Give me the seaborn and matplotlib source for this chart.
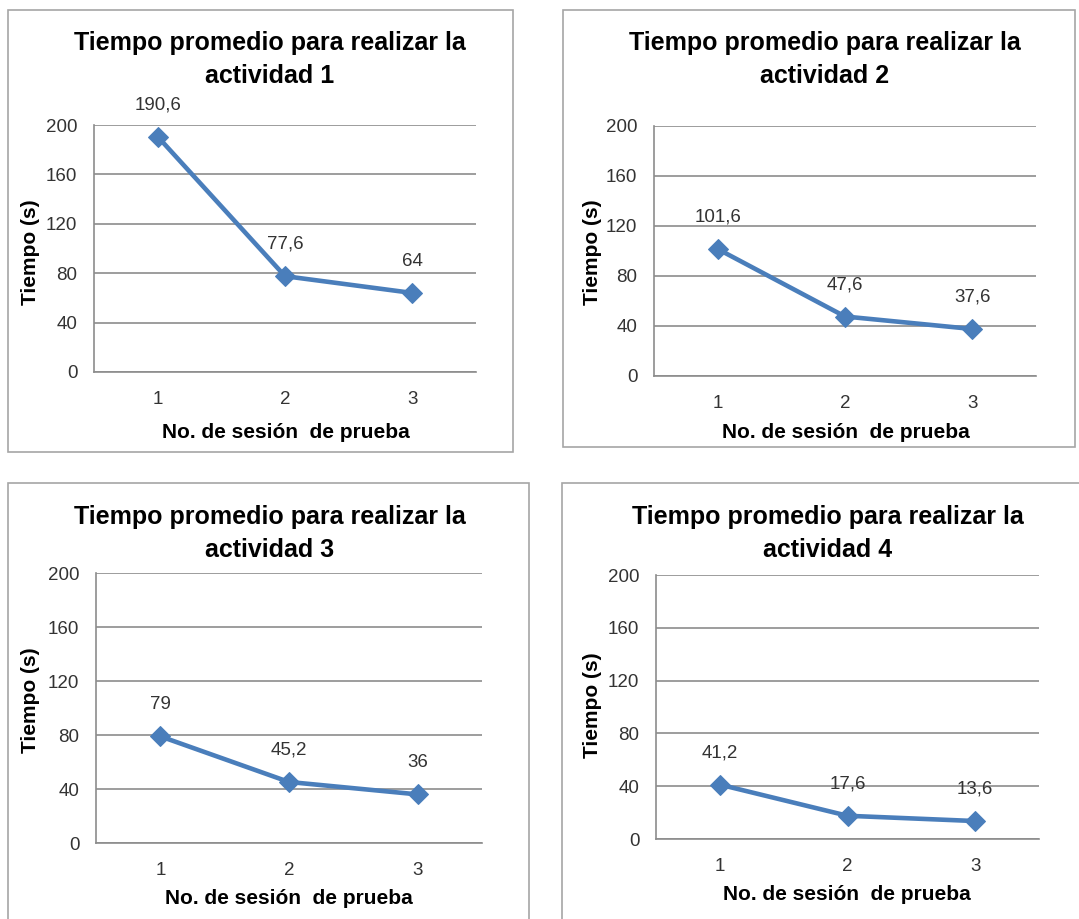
import matplotlib
matplotlib.use("Agg")
import matplotlib.pyplot as plt
import seaborn as sns
import pandas as pd
from matplotlib.patches import Rectangle

sns.set_style("white")
plt.rcParams["font.family"] = ["Liberation Sans", "DejaVu Sans"]

# Average time (s) per test session for each activity
sessions = [1, 2, 3]
actividad_1 = [190.6, 77.6, 64]
actividad_2 = [101.6, 47.6, 37.6]
actividad_3 = [79, 45.2, 36]
actividad_4 = [41.2, 17.6, 13.6]
titles = [
    "Tiempo promedio para realizar la\nactividad 1",
    "Tiempo promedio para realizar la\nactividad 2",
    "Tiempo promedio para realizar la\nactividad 3",
    "Tiempo promedio para realizar la\nactividad 4",
]
y_ticks = [0, 40, 80, 120, 160, 200]
x_label = "No. de sesión  de prueba"
y_label = "Tiempo (s)"

W, H = 1079, 919
fig = plt.figure(figsize=(W / 100, H / 100), dpi=100)

LINE = "#4A7EBB"
GRID = "#8C8C8C"
TXT = "#333333"

# layout of each chart in pixels: plot area, frame, title centre, labels
layout = [
    dict(plot=(94, 476, 125, 372), frame=(8, 10, 513, 452), tx=270, ty=(43, 76),
         ylx=30, yly=252, xlx=286, xly=432),
    dict(plot=(654, 1036, 126, 376), frame=(563, 10, 1075, 447), tx=825, ty=(43, 76),
         ylx=592, yly=252, xlx=846, xly=432),
    dict(plot=(96, 482, 573, 843), frame=(8, 483, 529, 930), tx=270, ty=(517, 550),
         ylx=30, yly=700, xlx=289, xly=898),
    dict(plot=(656, 1039, 575, 839), frame=(562, 483, 1090, 930), tx=828, ty=(517, 550),
         ylx=592, yly=705, xlx=847, xly=894),
]
series = [actividad_1, actividad_2, actividad_3, actividad_4]


def fmt(v):
    s = f"{v:.1f}".rstrip("0").rstrip(".")
    return s.replace(".", ",")


for vals, title, lay in zip(series, titles, layout):
    fx0, fy0, fx1, fy1 = lay["frame"]
    fig.patches.append(Rectangle((fx0 / W, 1 - fy1 / H), (fx1 - fx0) / W, (fy1 - fy0) / H,
                                 transform=fig.transFigure, fill=False,
                                 edgecolor="#A6A6A6", linewidth=1.2, zorder=0))

    l, r, t, b = lay["plot"]
    ax = fig.add_axes([l / W, 1 - b / H, (r - l) / W, (b - t) / H])
    df = pd.DataFrame({"x": [s - 1 for s in sessions], "y": vals})
    sns.lineplot(data=df, x="x", y="y", ax=ax, color=LINE, linewidth=3.3,
                 marker="D", markersize=10, markeredgecolor=LINE, clip_on=False, zorder=5)

    ax.set_xlim(-0.5, len(sessions) - 0.5)
    ax.set_ylim(0, 200)
    ax.set_yticks(y_ticks)
    ax.set_yticklabels([str(v) for v in y_ticks])
    ax.set_xticks([i - 0.5 for i in range(len(sessions) + 1)])
    ax.set_xticklabels([])
    ax.set_xticks(range(len(sessions)), minor=True)
    ax.set_xticklabels([str(s) for s in sessions], minor=True)
    ax.tick_params(axis="x", which="major", length=6, width=1, color=GRID, direction="out")
    ax.tick_params(axis="x", which="minor", length=0, pad=14, labelsize=13.5, labelcolor=TXT)
    ax.tick_params(axis="y", length=6, width=1, color=GRID, direction="out", pad=6,
                   labelsize=13.5, labelcolor=TXT)
    ax.yaxis.grid(True, color=GRID, linewidth=1.2)
    ax.set_axisbelow(True)
    for side in ["top", "right"]:
        ax.spines[side].set_visible(False)
    ax.spines["left"].set_color(GRID)
    ax.spines["bottom"].set_color(GRID)
    ax.spines["left"].set_linewidth(1.2)
    ax.spines["bottom"].set_linewidth(1.2)
    ax.set_xlabel("")
    ax.set_ylabel("")

    for i, v in enumerate(vals):
        ax.annotate(fmt(v), (i, v), xytext=(0, 23), textcoords="offset points",
                    ha="center", va="center", fontsize=13.5, color=TXT)

    t1, t2 = title.split("\n")
    fig.text(lay["tx"] / W, 1 - lay["ty"][0] / H, t1, ha="center", va="center",
             fontsize=18, fontweight="bold", color="black")
    fig.text(lay["tx"] / W, 1 - lay["ty"][1] / H, t2, ha="center", va="center",
             fontsize=18, fontweight="bold", color="black")
    fig.text(lay["xlx"] / W, 1 - lay["xly"] / H, x_label, ha="center", va="center",
             fontsize=15, fontweight="bold", color="black")
    fig.text(lay["ylx"] / W, 1 - lay["yly"] / H, y_label, ha="center", va="center",
             rotation=90, fontsize=15, fontweight="bold", color="black")

fig.savefig("out.png", dpi=100, facecolor="white")
